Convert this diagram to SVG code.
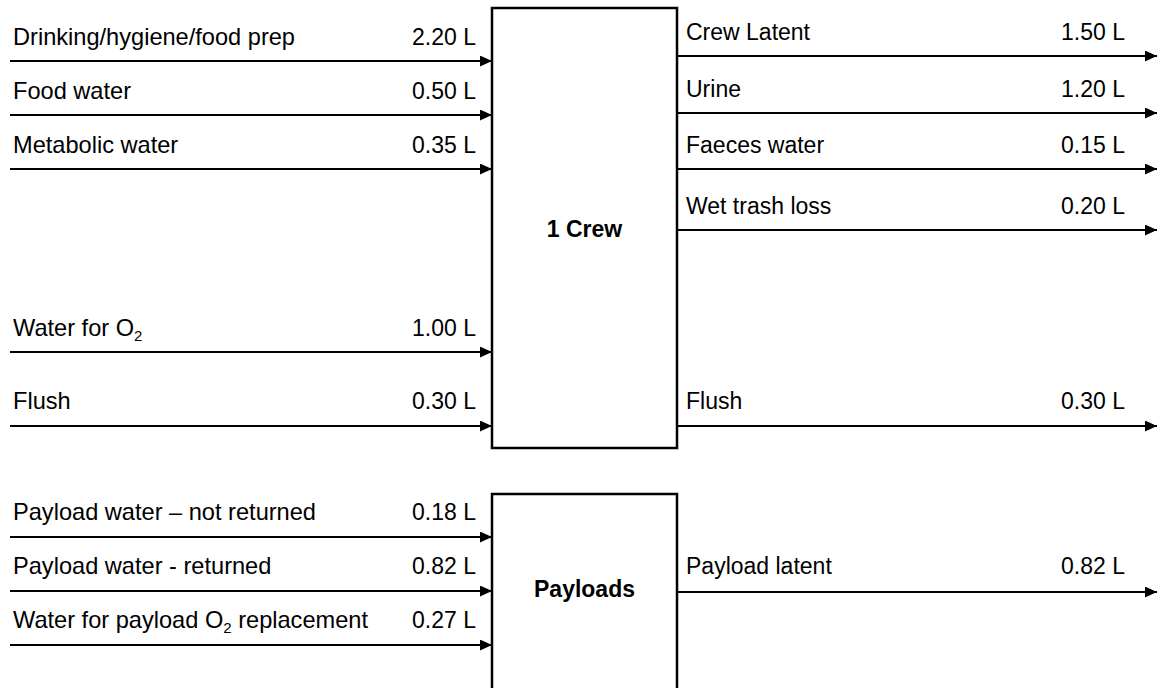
<svg xmlns="http://www.w3.org/2000/svg" width="1157" height="688" viewBox="0 0 1157 688">
<style>
text{font-family:"Liberation Sans",Arial,sans-serif;font-size:23px;fill:#000}
.l{font-size:23.6px}
.v{text-anchor:end}
.b{font-weight:bold;text-anchor:middle}
.box{fill:#fff;stroke:#000;stroke-width:2.5}
.c line{stroke:#000;stroke-width:2;marker-end:url(#ah)}
</style>
<defs>
<marker id="ah" markerUnits="userSpaceOnUse" markerWidth="12" markerHeight="11" refX="12" refY="5.5" orient="auto">
<path d="M0,0 L12,5.5 L0,11 Z" fill="#000"/>
</marker>
</defs>
<rect width="1157" height="688" fill="#fff"/>
<g id="crew">
<rect class="box" x="492" y="8" width="185" height="440"/>
<text class="b" x="584.5" y="237">1 Crew</text>
</g>
<g id="payloads">
<rect class="box" x="492" y="494" width="185" height="200"/>
<text class="b" x="584.5" y="597">Payloads</text>
</g>
<g class="c" id="connectors">
<line x1="10" y1="61" x2="492" y2="61"/>
<line x1="10" y1="115" x2="492" y2="115"/>
<line x1="10" y1="169" x2="492" y2="169"/>
<line x1="10" y1="352" x2="492" y2="352"/>
<line x1="10" y1="426" x2="492" y2="426"/>
<line x1="10" y1="537" x2="492" y2="537"/>
<line x1="10" y1="591" x2="492" y2="591"/>
<line x1="10" y1="645" x2="492" y2="645"/>
<line x1="677" y1="56" x2="1157" y2="56"/>
<line x1="677" y1="113" x2="1157" y2="113"/>
<line x1="677" y1="169" x2="1157" y2="169"/>
<line x1="677" y1="230" x2="1157" y2="230"/>
<line x1="677" y1="426" x2="1157" y2="426"/>
<line x1="677" y1="592" x2="1157" y2="592"/>
</g>
<g id="labels">
<text class="l" x="13" y="45">Drinking/hygiene/food prep</text><text class="v" x="476" y="45">2.20 L</text>
<text class="l" x="13" y="99">Food water</text><text class="v" x="476" y="99">0.50 L</text>
<text class="l" x="13" y="153">Metabolic water</text><text class="v" x="476" y="153">0.35 L</text>
<text class="l" x="13" y="336">Water for O<tspan font-size="15" dy="5">2</tspan></text><text class="v" x="476" y="336">1.00 L</text>
<text class="l" x="13" y="409">Flush</text><text class="v" x="476" y="409">0.30 L</text>
<text class="l" x="13" y="520">Payload water – not returned</text><text class="v" x="476" y="520">0.18 L</text>
<text class="l" x="13" y="574">Payload water - returned</text><text class="v" x="476" y="574">0.82 L</text>
<text class="l" x="13" y="628">Water for payload O<tspan font-size="15" dy="5">2</tspan><tspan dy="-5"> replacement</tspan></text><text class="v" x="476" y="628">0.27 L</text>
<text x="686" y="40">Crew Latent</text><text class="v" x="1125" y="40">1.50 L</text>
<text x="686" y="97">Urine</text><text class="v" x="1125" y="97">1.20 L</text>
<text x="686" y="153">Faeces water</text><text class="v" x="1125" y="153">0.15 L</text>
<text x="686" y="214">Wet trash loss</text><text class="v" x="1125" y="214">0.20 L</text>
<text x="686" y="409">Flush</text><text class="v" x="1125" y="409">0.30 L</text>
<text x="686" y="574">Payload latent</text><text class="v" x="1125" y="574">0.82 L</text>
</g>
</svg>
